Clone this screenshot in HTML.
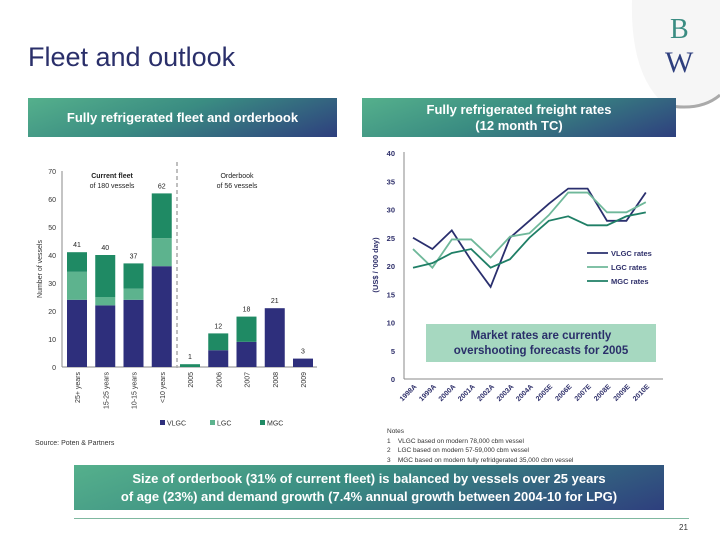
<!DOCTYPE html>
<html><head><meta charset="utf-8"><style>
body{margin:0;width:720px;height:540px;background:#fff;font-family:"Liberation Sans",sans-serif;position:relative;overflow:hidden}
.hdr{position:absolute;color:#fff;font-weight:bold;font-size:13px;text-align:center;display:flex;align-items:center;justify-content:center;line-height:16px;background:linear-gradient(160deg,#55b08c 0%,#3a8c82 45%,#2e3f7e 100%)}
</style></head><body>
<div style="position:absolute;left:28px;top:42px;font-size:27px;color:#2a2f6a">Fleet and outlook</div>
<svg style="position:absolute;left:620px;top:0" width="100" height="115">
<path d="M12 0 Q10 75 45 105 Q80 112 100 95 L100 0 Z" fill="#f6f6f6"/>
<path d="M45 105 Q80 112 100 95" stroke="#aaa" stroke-width="3" fill="none"/>
<text x="50" y="38" font-family="Liberation Serif" font-size="28" fill="#3a8c82">B</text>
<text x="45" y="72" font-family="Liberation Serif" font-size="30" fill="#2e3f7e">W</text>
</svg>
<div class="hdr" style="left:28px;top:98px;width:309px;height:39px">Fully refrigerated fleet and orderbook</div>
<div class="hdr" style="left:362px;top:98px;width:314px;height:39px">Fully refrigerated freight rates<br>(12 month TC)</div>

<svg id="bar" style="position:absolute;left:0;top:140px" width="340" height="300"></svg>
<svg id="line" style="position:absolute;left:340px;top:140px" width="380" height="290"></svg>

<div style="position:absolute;left:35px;top:440px;font-size:7px;color:#333">Source: Poten &amp; Partners</div>
<div style="position:absolute;left:387px;top:427px;font-size:6.5px;color:#333;line-height:9.5px">Notes<br>1&nbsp;&nbsp;&nbsp;&nbsp;VLGC based on modern 78,000 cbm vessel<br>2&nbsp;&nbsp;&nbsp;&nbsp;LGC based on modern 57-59,000 cbm vessel<br>3&nbsp;&nbsp;&nbsp;&nbsp;MGC based on modern fully refridgerated 35,000 cbm vessel</div>
<div class="hdr" style="left:74px;top:465px;width:590px;height:45px;font-size:13px;line-height:18px">Size of orderbook (31% of current fleet) is balanced by vessels over 25 years<br>of age (23%) and demand growth (7.4% annual growth between 2004-10 for LPG)</div>
<div style="position:absolute;left:74px;top:518px;width:615px;height:1px;background:#7fb8a0"></div>
<div style="position:absolute;left:679px;top:523px;font-size:8px;color:#333">21</div>

<script>
const barCats=["25+ years","15-25 years","10-15 years","<10 years","2005","2006","2007","2008","2009"];
const vlgc=[24,22,24,36,0,6,9,21,3];
const lgc=[10,3,4,10,0,0,0,0,0];
const mgc=[7,15,9,16,1,6,9,0,0];
const barTicks=[0,10,20,30,40,50,60,70];

const years=["1998A","1999A","2000A","2001A","2002A","2003A","2004A","2005E","2006E","2007E","2008E","2009E","2010E"];
const vlgcRates=[25,23,26.3,21,16.3,25,28,31,33.7,33.7,28,28,33];
const lgcRates=[23,19.7,24.7,24.7,21.5,25.2,25.8,29,33,33,29.5,29.5,31.3];
const mgcRates=[19.7,20.5,22.3,23,19.7,21.2,25,28,28.8,27.2,27.2,28.8,29.5];
const rateTicks=[0,5,10,15,20,25,30,35,40];

const NS="http://www.w3.org/2000/svg";
function mk(p,t,a,txt){const e=document.createElementNS(NS,t);for(const k in a)e.setAttribute(k,a[k]);if(txt!==undefined)e.textContent=txt;p.appendChild(e);return e;}

const B=document.getElementById('bar');
const by=v=>227-v*2.8;
const bx=i=>77+i*28.25;
mk(B,'line',{x1:62,y1:227,x2:317,y2:227,stroke:'#888','stroke-width':1});
mk(B,'line',{x1:62,y1:31,x2:62,y2:227,stroke:'#888','stroke-width':1});
barTicks.forEach(t=>{const e=mk(B,'text',{x:56,y:by(t)+3,'font-size':7,'text-anchor':'end',fill:'#333'},t);

});
let yt=mk(B,'text',{x:0,y:0,'font-size':7,'text-anchor':'middle',fill:'#333',transform:`translate(42,129) rotate(-90)`},'Number of vessels');

mk(B,'line',{x1:177,y1:22,x2:177,y2:228,stroke:'#aaa','stroke-width':1.5,'stroke-dasharray':'4,3'});
mk(B,'text',{x:112,y:38,'font-size':7,'font-weight':'bold','text-anchor':'middle',fill:'#222'},'Current fleet');
mk(B,'text',{x:112,y:48,'font-size':7,'text-anchor':'middle',fill:'#222'},'of 180 vessels');
mk(B,'text',{x:237,y:38,'font-size':7,'text-anchor':'middle',fill:'#222'},'Orderbook');
mk(B,'text',{x:237,y:48,'font-size':7,'text-anchor':'middle',fill:'#222'},'of 56 vessels');
const cols=['#2e2f7c','#5db38e','#1f8a64'];
barCats.forEach((c,i)=>{
  let base=0;
  [vlgc,lgc,mgc].forEach((s,k)=>{
    if(s[i]>0){const r=mk(B,'rect',{x:bx(i)-10,y:by(base+s[i]),width:20,height:s[i]*2.8,fill:cols[k]});
    
    }
    base+=s[i];
  });
  const tot=mk(B,'text',{x:bx(i),y:by(base)-5,'font-size':7,'text-anchor':'middle',fill:'#222'},base);
  
  
  const lab=mk(B,'text',{x:0,y:0,'font-size':7,'text-anchor':'end',fill:'#333',transform:`translate(${bx(i)+3},232) rotate(-90)`},c);
  
  
});
['VLGC','LGC','MGC'].forEach((n,k)=>{
  const x=160+k*50;
  const r=mk(B,'rect',{x:x,y:280,width:5,height:5,fill:cols[k]});
  
  const t=mk(B,'text',{x:x+7,y:285.5,'font-size':7,fill:'#333'},n);
  
});

const L=document.getElementById('line');
const ly=v=>239-v*5.65;
const lx=i=>73+i*19.4;
mk(L,'line',{x1:64,y1:239,x2:323,y2:239,stroke:'#888'});
mk(L,'line',{x1:64,y1:12,x2:64,y2:239,stroke:'#888'});
rateTicks.forEach(t=>{const e=mk(L,'text',{x:55,y:ly(t)+3,'font-size':7.5,'font-weight':'bold','text-anchor':'end',fill:'#2e2f6a'},t);
});
const lyt=mk(L,'text',{x:0,y:0,'font-size':7.5,'font-weight':'bold','text-anchor':'middle',fill:'#2e2f6a',transform:'translate(38,125) rotate(-90)'},"(US$ / '000 day)");

years.forEach((y,i)=>{const e=mk(L,'text',{x:0,y:0,'font-size':7,'font-weight':'bold','text-anchor':'end',fill:'#2e2f6a',transform:`translate(${lx(i)+4},247) rotate(-45)`},y);
});
const lcols=['#2a2f6e','#6fb89a','#1f7f66'];
const lnames=['VLGC rates','LGC rates','MGC rates'];
[vlgcRates,lgcRates,mgcRates].forEach((s,k)=>{
  const p=mk(L,'polyline',{points:s.map((v,i)=>lx(i)+','+ly(v)).join(' '),fill:'none',stroke:lcols[k],'stroke-width':1.8});
  
  
  const yy=113+k*14;
  mk(L,'line',{x1:247,y1:yy,x2:268,y2:yy,stroke:lcols[k],'stroke-width':1.8});
  const t=mk(L,'text',{x:271,y:yy+3,'font-size':7.5,'font-weight':'bold',fill:'#2e2f6a'},lnames[k]);
  
});
const bx2=mk(L,'rect',{x:86,y:184,width:230,height:38,fill:'#a6d8c0'});

mk(L,'text',{x:201,y:199,'font-size':11.5,'font-weight':'bold','text-anchor':'middle',fill:'#2a2f6a'},'Market rates are currently');
mk(L,'text',{x:201,y:214,'font-size':11.5,'font-weight':'bold','text-anchor':'middle',fill:'#2a2f6a'},'overshooting forecasts for 2005');
</script>
</body></html>
